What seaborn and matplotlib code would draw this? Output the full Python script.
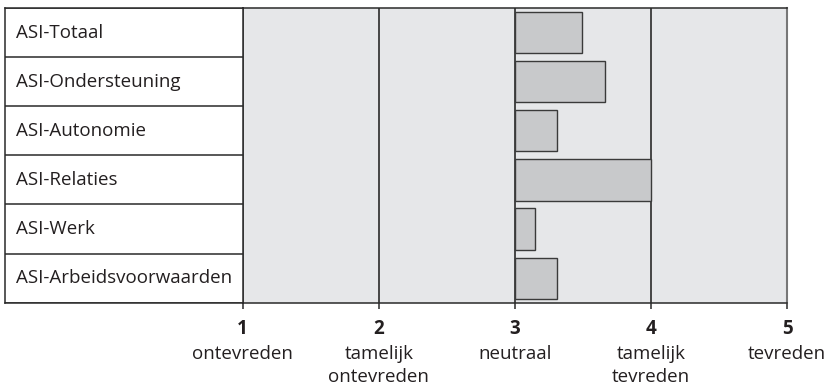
import pandas as pd
import matplotlib.pyplot as plt
import seaborn as sns

# Data
schalen = ['ASI-Totaal', 'ASI-Ondersteuning', 'ASI-Autonomie', 'ASI-Relaties',
           'ASI-Werk', 'ASI-Arbeidsvoorwaarden']
scores = [3.49, 3.66, 3.31, 4.00, 3.15, 3.31]
tick_waarden = [1, 2, 3, 4, 5]
tick_teksten = ['ontevreden', 'tamelijk\nontevreden', 'neutraal',
                'tamelijk\ntevreden', 'tevreden']
basis = 3

df = pd.DataFrame({'schaal': schalen, 'score': scores})
df['afwijking'] = df['score'] - basis

sns.set_style('white')
plt.rcParams['font.family'] = ['Open Sans', 'DejaVu Sans']

fig = plt.figure(figsize=(8.32, 3.87), dpi=100)
W, H = 832, 387
x0, x1 = 242.6, 787.3
y_top, y_bot = 8, 302.7
ax = fig.add_axes([x0 / W, 1 - y_bot / H, (x1 - x0) / W, (y_bot - y_top) / H])
axl = fig.add_axes([5 / W, 1 - y_bot / H, (x0 - 5) / W, (y_bot - y_top) / H])

lijn = '#2a2a2a'

# Balken vanaf neutraal (3)
sns.barplot(data=df, y='schaal', x='afwijking', orient='h', ax=ax, width=0.84,
            color='#c8c9cb', edgecolor='#3a3a3a', linewidth=1.0, left=basis,
            saturation=1, zorder=3)

ax.set_facecolor('#e6e7e9')
ax.set_xlim(1, 5)
ax.set_ylim(len(schalen) - 0.5, -0.5)
for v in [2, 3, 4]:
    ax.axvline(v, color=lijn, lw=1.2, zorder=2)
for s in ax.spines.values():
    s.set_color(lijn)
    s.set_linewidth(1.1)
ax.spines['right'].set_color('#777777')
ax.spines['right'].set_linewidth(1.5)
ax.set_yticks([])
ax.set_ylabel('')
ax.set_xlabel('')
ax.set_xticks(tick_waarden)
ax.set_xticklabels([str(t) for t in tick_waarden], fontsize=13.5,
                   fontweight='bold', color='#231f20')
ax.tick_params(axis='x', bottom=True, length=4.5, width=1.1, color=lijn, pad=7)

for v, tekst in zip(tick_waarden, tick_teksten):
    ax.annotate(tekst, xy=(v, 0), xycoords=('data', 'axes fraction'),
                xytext=(0, -30.5), textcoords='offset points', ha='center',
                va='top', fontsize=13.5, color='#231f20', linespacing=1.33)

# Labeltabel links
axl.set_xlim(0, 1)
axl.set_ylim(len(schalen) - 0.5, -0.5)
axl.set_xticks([])
axl.set_yticks([])
for i, naam in enumerate(schalen):
    axl.text(0.046, i, naam, va='center', ha='left', fontsize=13.5, color='#231f20')
for i in range(len(schalen) + 1):
    axl.axhline(i - 0.5, color=lijn, lw=1.1)
for s in axl.spines.values():
    s.set_color(lijn)
    s.set_linewidth(1.1)

plt.savefig('out.png', dpi=100)
